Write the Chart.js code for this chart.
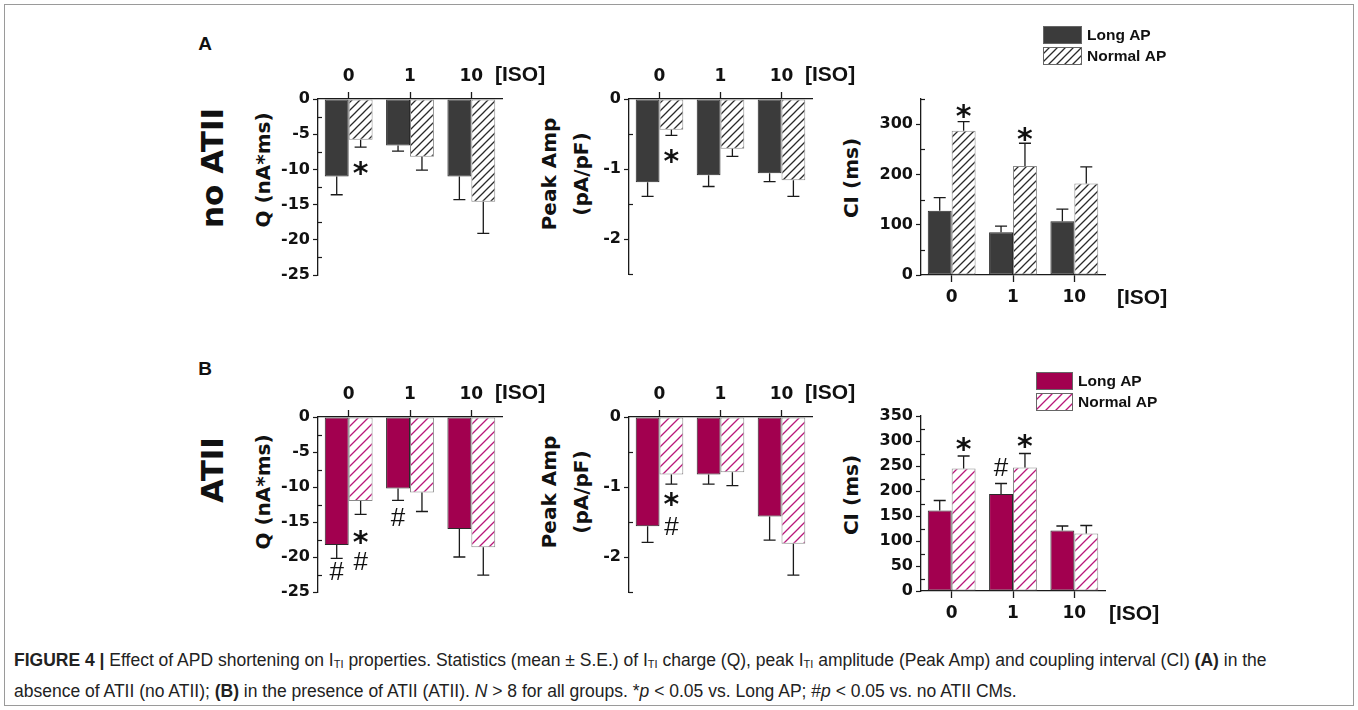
<!DOCTYPE html>
<html>
<head>
<meta charset="utf-8">
<script src="https://cdn.jsdelivr.net/npm/chart.js@4.4.0/dist/chart.umd.min.js"></script>
<style>
  body { margin: 0; background: #fff; }
  #page { position: relative; width: 1358px; height: 710px; overflow: hidden; background: #fff; }
  #frame { position: absolute; left: 4px; top: 4px; width: 1348px; height: 700px; border: 1px solid #9a9a9a; }
  canvas { position: absolute; }
  .rot { position: absolute; font-family: "DejaVu Sans", sans-serif; font-weight: bold; color: #111;
         white-space: nowrap; text-align: center; transform: translate(-50%, -50%) rotate(-90deg); }
  .tag { position: absolute; font-family: "Liberation Sans", Arial, sans-serif; font-weight: bold; font-size: 19px;
         color: #111; transform: translate(-50%, -50%); }
  #caption { position: absolute; left: 14px; top: 647px; font-family: "Liberation Sans", Arial, sans-serif;
             font-size: 17.5px; line-height: 27px; color: #222; white-space: nowrap; }
  #caption sub { font-size: 11px; vertical-align: -2px; }
</style>
</head>
<body>
<div id="page">
  <div id="frame"></div>

  <div class="tag" style="left:205px;top:44px">A</div>
  <div class="tag" style="left:205px;top:369px">B</div>
  <div class="rot" style="left:212px;top:168px;font-size:31px">no ATII</div>
  <div class="rot" style="left:212px;top:470px;font-size:31px">ATII</div>

  <div class="rot" style="left:263px;top:170px;font-size:20px">Q (nA*ms)</div>
  <div class="rot" style="left:263px;top:492px;font-size:20px">Q (nA*ms)</div>
  <div class="rot" style="left:565px;top:174px;font-size:20px;line-height:32px">Peak Amp<br>(pA/pF)</div>
  <div class="rot" style="left:565px;top:492px;font-size:20px;line-height:32px">Peak Amp<br>(pA/pF)</div>
  <div class="rot" style="left:851px;top:178px;font-size:20px">CI (ms)</div>
  <div class="rot" style="left:851px;top:495px;font-size:20px">CI (ms)</div>

  <canvas id="qA"></canvas>
  <canvas id="ampA"></canvas>
  <canvas id="ciA"></canvas>
  <canvas id="qB"></canvas>
  <canvas id="ampB"></canvas>
  <canvas id="ciB"></canvas>

  <div id="caption">
    <b>FIGURE 4 |</b> Effect of APD shortening on I<sub>TI</sub> properties. Statistics (mean ± S.E.) of I<sub>TI</sub> charge (Q), peak I<sub>TI</sub> amplitude (Peak Amp) and coupling interval (CI) <b>(A)</b> in the<br>
    absence of ATII (no ATII); <b>(B)</b> in the presence of ATII (ATII). <i>N</i> &gt; 8 for all groups. *<i>p</i> &lt; 0.05 vs. Long AP; #<i>p</i> &lt; 0.05 vs. no ATII CMs.
  </div>
</div>

<script>
const isoLevels = ['0', '1', '10'];
const isoTitle = '[ISO]';
const groupLabels = ['Long AP', 'Normal AP'];

// A: no ATII
const qLongA = [-11.0, -6.6, -11.0];
const qLongErrA = [2.6, 0.8, 3.3];
const qNormA = [-5.8, -8.2, -14.6];
const qNormErrA = [1.05, 1.9, 4.5];
const ampLongA = [-1.19, -1.09, -1.06];
const ampLongErrA = [0.20, 0.16, 0.12];
const ampNormA = [-0.44, -0.71, -1.16];
const ampNormErrA = [0.08, 0.11, 0.23];
const ciLongA = [128, 85, 107];
const ciLongErrA = [26, 12, 24];
const ciNormA = [287, 217, 182];
const ciNormErrA = [18, 45, 33];

// B: ATII
const qLongB = [-18.3, -10.2, -16.0];
const qLongErrB = [1.9, 1.7, 4.0];
const qNormB = [-12.0, -10.8, -18.6];
const qNormErrB = [1.9, 2.7, 4.0];
const ampLongB = [-1.56, -0.82, -1.42];
const ampLongErrB = [0.23, 0.14, 0.34];
const ampNormB = [-0.82, -0.79, -1.81];
const ampNormErrB = [0.14, 0.19, 0.45];
const ciLongB = [161, 194, 121];
const ciLongErrB = [20, 21, 9];
const ciNormB = [245, 247, 115];
const ciNormErrB = [25, 28, 16];

// significance marks: [iso index, group index, value, symbol]
const marksQA = [[0, 1, -9.7, '*']];
const marksAmpA = [[0, 1, -0.80, '*']];
const marksCIA = [[0, 1, 328, '*'], [1, 1, 283, '*']];
const marksQB = [[0, 0, -22.0, '#'], [0, 1, -16.9, '*'], [0, 1, -20.6, '#'], [1, 0, -14.3, '#']];
const marksAmpB = [[0, 1, -1.15, '*'], [0, 1, -1.56, '#']];
const marksCIB = [[0, 1, 296, '*'], [1, 0, 248, '#'], [1, 1, 302, '*']];

const INK = '#1a1a1a';

function hatch(color, size) {
  const c = document.createElement('canvas');
  c.width = c.height = size;
  const g = c.getContext('2d');
  g.fillStyle = '#fff';
  g.fillRect(0, 0, size, size);
  g.strokeStyle = color;
  g.lineWidth = 1.3;
  g.beginPath();
  g.moveTo(0, size); g.lineTo(size, 0);
  g.moveTo(-size / 2, size / 2); g.lineTo(size / 2, -size / 2);
  g.moveTo(size / 2, size * 1.5); g.lineTo(size * 1.5, size / 2);
  g.stroke();
  return g.createPattern(c, 'repeat');
}

const isMajor = (v, step) => Math.abs(v / step - Math.round(v / step)) < 1e-6;

// one-sided error bars, drawn away from zero
const errorBars = {
  id: 'errorBars',
  afterDatasetsDraw(chart) {
    const ctx = chart.ctx, y = chart.scales.y;
    ctx.save();
    ctx.strokeStyle = INK;
    ctx.lineWidth = 1.3;
    chart.data.datasets.forEach((ds, i) => {
      chart.getDatasetMeta(i).data.forEach((bar, j) => {
        const v = ds.data[j];
        const end = v + Math.sign(v) * ds.errors[j];
        const y1 = y.getPixelForValue(v), y2 = y.getPixelForValue(end);
        ctx.beginPath();
        ctx.moveTo(bar.x, y1); ctx.lineTo(bar.x, y2);
        ctx.moveTo(bar.x - 6, y2); ctx.lineTo(bar.x + 6, y2);
        ctx.stroke();
      });
    });
    ctx.restore();
  }
};

// minor ticks pointing inwards
const minorTicks = {
  id: 'minorTicks',
  afterDraw(chart, args, opts) {
    const ctx = chart.ctx, y = chart.scales.y, left = chart.chartArea.left;
    ctx.save();
    ctx.strokeStyle = INK;
    ctx.lineWidth = 1.2;
    y.ticks.forEach(t => {
      if (isMajor(t.value, opts.step)) return;
      const py = Math.round(y.getPixelForValue(t.value)) + 0.5;
      ctx.beginPath();
      ctx.moveTo(left, py); ctx.lineTo(left + 4, py);
      ctx.stroke();
    });
    ctx.restore();
  }
};

const sigMarks = {
  id: 'sigMarks',
  afterDraw(chart, args, opts) {
    const ctx = chart.ctx, y = chart.scales.y;
    ctx.save();
    ctx.fillStyle = '#111';
    ctx.textAlign = 'center';
    ctx.textBaseline = 'alphabetic';
    (opts.list || []).forEach(([cat, ds, val, sym]) => {
      const x = chart.getDatasetMeta(ds).data[cat].x;
      const py = y.getPixelForValue(val);
      if (sym === '*') {
        ctx.font = 'bold 30px "DejaVu Sans"';
        ctx.fillText(sym, x, py + 0.54 * 30);
      } else {
        ctx.font = '26px "Liberation Sans"';
        ctx.fillText(sym, x, py + 0.35 * 26);
      }
    });
    ctx.restore();
  }
};

const isoTag = {
  id: 'isoTag',
  afterDraw(chart, args, opts) {
    const ctx = chart.ctx, a = chart.chartArea;
    ctx.save();
    ctx.fillStyle = '#111';
    ctx.font = 'bold 21px "Liberation Sans"';
    ctx.textAlign = 'left';
    ctx.textBaseline = 'middle';
    const py = opts.top ? a.top - 24 : a.bottom + 23;
    ctx.fillText(isoTitle, a.right + opts.dx, py);
    ctx.restore();
  }
};

const keyBox = {
  id: 'keyBox',
  afterDraw(chart, args, opts) {
    if (!opts.show) return;
    const ctx = chart.ctx, a = chart.chartArea;
    ctx.save();
    ctx.font = 'bold 15.5px "Liberation Sans"';
    ctx.textBaseline = 'middle';
    chart.data.datasets.forEach((ds, i) => {
      const x = a.left + opts.dx, y = a.top + opts.dy + i * (opts.h + opts.gap);
      ctx.fillStyle = ds.backgroundColor;
      ctx.fillRect(x, y, opts.w, opts.h);
      ctx.strokeStyle = '#666';
      ctx.lineWidth = 1;
      ctx.strokeRect(x + 0.5, y + 0.5, opts.w - 1, opts.h - 1);
      ctx.fillStyle = '#111';
      ctx.fillText(ds.label, x + opts.w + 5, y + opts.h / 2 + 1);
    });
    ctx.restore();
  }
};

function panel(id, box, area, s) {
  const cv = document.getElementById(id);
  cv.width = box.w; cv.height = box.h;
  cv.style.left = box.x + 'px'; cv.style.top = box.y + 'px';
  const top = s.axisTop;
  const yW = area.x - box.x;
  const xH = top ? area.y - box.y : 40;
  const pad = {
    left: 0,
    right: box.x + box.w - (area.x + area.w),
    top: top ? 0 : area.y - box.y,
    bottom: top ? box.y + box.h - (area.y + area.h) : box.h - (area.y - box.y) - area.h - 40
  };
  return new Chart(cv, {
    type: 'bar',
    data: {
      labels: isoLevels,
      datasets: [
        { label: groupLabels[0], data: s.long, errors: s.longErr, backgroundColor: s.solid,
          borderColor: '#2a2a2a', borderWidth: 1, borderSkipped: false },
        { label: groupLabels[1], data: s.norm, errors: s.normErr, backgroundColor: s.pattern,
          borderColor: '#8a8a8a', borderWidth: 1, borderSkipped: false }
      ]
    },
    options: {
      responsive: false,
      animation: false,
      layout: { padding: pad },
      datasets: { bar: { categoryPercentage: 0.78, barPercentage: 1 } },
      plugins: {
        legend: { display: false },
        tooltip: { enabled: false },
        minorTicks: { step: s.major },
        sigMarks: { list: s.marks },
        isoTag: { top: top, dx: top ? -7 : (s.isoDx || 8) },
        keyBox: s.key || { show: false }
      },
      scales: {
        x: {
          position: top ? 'top' : 'bottom',
          offset: true,
          grid: { offset: false, drawOnChartArea: false, tickLength: 7, tickColor: INK, tickWidth: 1.3 },
          border: { color: INK, width: 1.3 },
          ticks: { color: '#111', padding: 5, font: { family: 'DejaVu Sans', size: 17, weight: 'bold' } },
          afterFit(sc) { sc.height = xH; }
        },
        y: {
          min: s.min, max: s.max,
          grid: {
            drawOnChartArea: false, tickLength: 5, tickWidth: 1.2,
            tickColor: c => isMajor(c.tick.value, s.major) ? INK : 'rgba(0,0,0,0)'
          },
          border: { color: INK, width: 1.3 },
          ticks: {
            stepSize: s.step, autoSkip: false, color: '#111', padding: 3,
            font: { family: 'DejaVu Sans', size: 16, weight: 'bold' },
            callback: v => isMajor(v, s.major) ? String(Math.round(v)) : ''
          },
          afterFit(sc) { sc.width = yW; }
        }
      }
    },
    plugins: [errorBars, minorTicks, sigMarks, isoTag, keyBox]
  });
}

const darkFill = '#3b3b3b';
const darkHatch = hatch('#2a2a2a', 8);
const plumFill = '#a2004f';
const plumHatch = hatch('#b8187a', 10);

panel('qA', { x: 268, y: 40, w: 300, h: 250 }, { x: 318, y: 99, w: 184, h: 176 }, {
  axisTop: true, long: qLongA, longErr: qLongErrA, norm: qNormA, normErr: qNormErrA,
  solid: darkFill, pattern: darkHatch, min: -25, max: 0, step: 2.5, major: 5, marks: marksQA
});
panel('ampA', { x: 579, y: 40, w: 300, h: 250 }, { x: 629, y: 99, w: 183, h: 175 }, {
  axisTop: true, long: ampLongA, longErr: ampLongErrA, norm: ampNormA, normErr: ampNormErrA,
  solid: darkFill, pattern: darkHatch, min: -2.5, max: 0, step: 0.5, major: 1, marks: marksAmpA
});
panel('ciA', { x: 871, y: 10, w: 320, h: 320 }, { x: 921, y: 99, w: 184, h: 176 }, {
  axisTop: false, long: ciLongA, longErr: ciLongErrA, norm: ciNormA, normErr: ciNormErrA,
  solid: darkFill, pattern: darkHatch, min: 0, max: 350, step: 50, major: 100, marks: marksCIA,
  isoDx: 12, key: { show: true, dx: 122, dy: -73, w: 39, h: 18, gap: 3 }
});
panel('qB', { x: 268, y: 358, w: 300, h: 250 }, { x: 318, y: 417, w: 184, h: 175 }, {
  axisTop: true, long: qLongB, longErr: qLongErrB, norm: qNormB, normErr: qNormErrB,
  solid: plumFill, pattern: plumHatch, min: -25, max: 0, step: 2.5, major: 5, marks: marksQB
});
panel('ampB', { x: 579, y: 358, w: 300, h: 250 }, { x: 629, y: 417, w: 183, h: 175 }, {
  axisTop: true, long: ampLongB, longErr: ampLongErrB, norm: ampNormB, normErr: ampNormErrB,
  solid: plumFill, pattern: plumHatch, min: -2.5, max: 0, step: 0.5, major: 1, marks: marksAmpB
});
panel('ciB', { x: 871, y: 355, w: 320, h: 280 }, { x: 921, y: 416, w: 184, h: 175 }, {
  axisTop: false, long: ciLongB, longErr: ciLongErrB, norm: ciNormB, normErr: ciNormErrB,
  solid: plumFill, pattern: plumHatch, min: 0, max: 350, step: 25, major: 50, marks: marksCIB,
  isoDx: 4, key: { show: true, dx: 115, dy: -44, w: 37, h: 18, gap: 3 }
});
</script>
</body>
</html>
